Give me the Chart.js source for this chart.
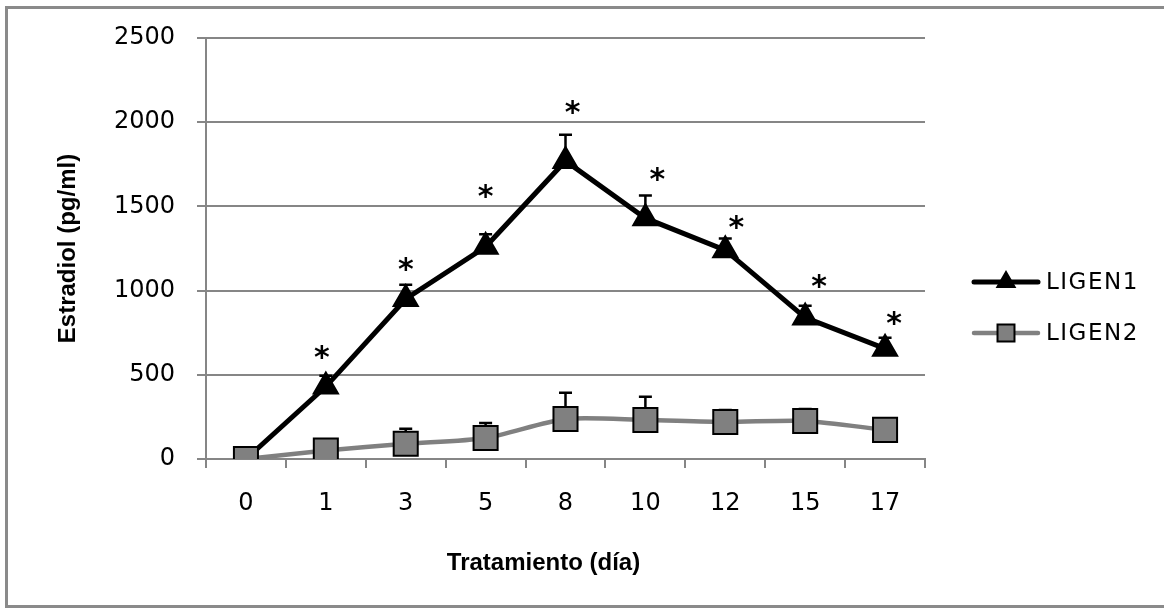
<!DOCTYPE html>
<html><head><meta charset="utf-8">
<script src="https://cdn.jsdelivr.net/npm/chart.js@4.4.1/dist/chart.umd.min.js"></script>
<style>html,body{margin:0;padding:0;background:#fff}#wrap{position:relative;width:1164px;height:609px}</style>
</head><body><div id="wrap"><canvas id="c" width="1164" height="609"></canvas></div>
<script>
// ---- data ----
const days = ['0','1','3','5','8','10','12','15','17'];
const ligen1 = [0, 430, 950, 1260, 1770, 1430, 1240, 840, 655];
const ligen1Err = [0, 65, 85, 75, 155, 135, 70, 70, 65];
const ligen2 = [0, 50, 90, 125, 238, 232, 220, 226, 173];
const ligen2Err = [0, 40, 89, 89, 155, 137, 71, 71, 65];
// value level at which each significance asterisk sits
const ligen1Stars = [null, 650, 1167, 1601, 2101, 1702, 1417, 1071, 851];
const yMin = 0, yMax = 2500, yStep = 500;
const seriesNames = ['LIGEN1', 'LIGEN2'];
const xTitle = 'Tratamiento (día)';
const yTitle = 'Estradiol (pg/ml)';

const GRID = '#868686';

const framePlugin = {
  id: 'frame',
  beforeDraw(chart) {
    const ctx = chart.ctx;
    ctx.save();
    ctx.fillStyle = '#fff';
    ctx.fillRect(0, 0, chart.width, chart.height);
    ctx.strokeStyle = '#8a8a8a';
    ctx.lineWidth = 3;
    ctx.strokeRect(6.5, 7.5, 1200, 599);
    ctx.restore();
  }
};

const errorBarPlugin = {
  id: 'errorBars',
  beforeDatasetsDraw(chart) {
    const ctx = chart.ctx;
    const y = chart.scales.y;
    ctx.save();
    ctx.strokeStyle = '#000';
    ctx.lineWidth = 2.5;
    chart.data.datasets.forEach((ds, i) => {
      const meta = chart.getDatasetMeta(i);
      const errs = ds.errors || [];
      meta.data.forEach((pt, j) => {
        const e = errs[j];
        if (!e) return;
        const top = y.getPixelForValue(ds.data[j] + e);
        ctx.beginPath();
        ctx.moveTo(pt.x, pt.y);
        ctx.lineTo(pt.x, top);
        ctx.moveTo(pt.x - 6.5, top);
        ctx.lineTo(pt.x + 6.5, top);
        ctx.stroke();
      });
    });
    ctx.restore();
  }
};

const starPlugin = {
  id: 'stars',
  afterDatasetsDraw(chart, args, opts) {
    const ctx = chart.ctx;
    const x = chart.scales.x, y = chart.scales.y;
    ctx.save();
    ctx.fillStyle = '#000';
    ctx.font = 'bold 30px "DejaVu Sans"';
    ctx.textAlign = 'center';
    ctx.textBaseline = 'alphabetic';
    ligen1Stars.forEach((v, j) => {
      if (v == null) return;
      const px = x.getPixelForValue(j) + (opts.nudge[j] || 0);
      const py = y.getPixelForValue(v);
      ctx.fillText('*', px, py + 17);
    });
    ctx.restore();
  }
};

const legendPlugin = {
  id: 'customLegend',
  afterDraw(chart) {
    const ctx = chart.ctx;
    const rows = [282, 333];
    ctx.save();
    chart.data.datasets.forEach((ds, i) => {
      const yy = rows[i];
      ctx.strokeStyle = ds.borderColor;
      ctx.lineWidth = ds.borderWidth;
      ctx.lineCap = 'round';
      ctx.beginPath();
      ctx.moveTo(974, yy);
      ctx.lineTo(1038, yy);
      ctx.stroke();
      ctx.fillStyle = ds.pointBackgroundColor;
      ctx.strokeStyle = ds.pointBorderColor;
      ctx.lineWidth = ds.pointBorderWidth;
      Chart.helpers.drawPoint(ctx, {pointStyle: ds.pointStyle, radius: ds.legendRadius, rotation: 0, borderWidth: ds.pointBorderWidth}, 1006, yy);
      ctx.fillStyle = '#000';
      ctx.font = '23px "DejaVu Sans"';
      ctx.textBaseline = 'middle';
      ctx.textAlign = 'left';
      if ('letterSpacing' in ctx) ctx.letterSpacing = '1.5px';
      ctx.fillText(ds.label, 1046, yy + 1);
      if ('letterSpacing' in ctx) ctx.letterSpacing = '0px';
    });
    ctx.restore();
  }
};

const xTitlePlugin = {
  id: 'xTitle',
  afterDraw(chart) {
    const ctx = chart.ctx;
    const a = chart.chartArea;
    ctx.save();
    ctx.fillStyle = '#000';
    ctx.font = 'bold 24px "Liberation Sans"';
    ctx.textAlign = 'center';
    ctx.textBaseline = 'middle';
    ctx.fillText(xTitle, (a.left + a.right) / 2 - 22, 563);
    ctx.restore();
  }
};

new Chart(document.getElementById('c'), {
  type: 'line',
  data: {
    labels: days,
    datasets: [
      {
        label: seriesNames[0], data: ligen1, errors: ligen1Err,
        borderColor: '#000', borderWidth: 5, tension: 0,
        pointStyle: 'triangle',
        // the first marker is hidden under the LIGEN2 square in the reference
        pointRadius: c => c.dataIndex === 0 ? 0 : 14, pointHoverRadius: 14, legendRadius: 10,
        pointBackgroundColor: '#000', pointBorderColor: '#000', pointBorderWidth: 2,
        order: 2
      },
      {
        label: seriesNames[1], data: ligen2, errors: ligen2Err,
        borderColor: '#808080', borderWidth: 4.5, tension: 0.25,
        pointStyle: 'rect', pointRadius: 17, pointHoverRadius: 17, legendRadius: 12,
        pointBackgroundColor: '#808080', pointBorderColor: '#000', pointBorderWidth: 2,
        order: 1
      }
    ]
  },
  options: {
    responsive: false, animation: false, devicePixelRatio: 1,
    layout: { padding: { top: 38, right: 239, left: 0, bottom: 0 } },
    plugins: {
      legend: { display: false }, tooltip: { enabled: false },
      stars: { nudge: [0, -4, 0, 0, 7, 12, 11, 14, 9] }
    },
    scales: {
      x: {
        offset: true,
        grid: { offset: true, drawOnChartArea: false, color: GRID, lineWidth: 2, tickLength: 9 },
        border: { color: GRID, width: 2 },
        ticks: { color: '#000', font: { family: 'DejaVu Sans', size: 24 }, padding: 21, maxRotation: 0 },
        afterFit(s) { s.height = 150; }
      },
      y: {
        min: yMin, max: yMax,
        ticks: { stepSize: yStep, color: '#000', font: { family: 'DejaVu Sans', size: 24 }, padding: 22,
                 callback: v => String(v) },
        grid: { color: GRID, lineWidth: 2, tickLength: 9 },
        border: { color: GRID, width: 2 },
        title: { display: true, text: yTitle, color: '#000', font: { family: 'Liberation Sans', size: 24, weight: 'bold' }, padding: { top: 54, bottom: 0 } },
        afterFit(s) { s.width = 206; }
      }
    }
  },
  plugins: [framePlugin, errorBarPlugin, starPlugin, legendPlugin, xTitlePlugin]
});
</script></body></html>
